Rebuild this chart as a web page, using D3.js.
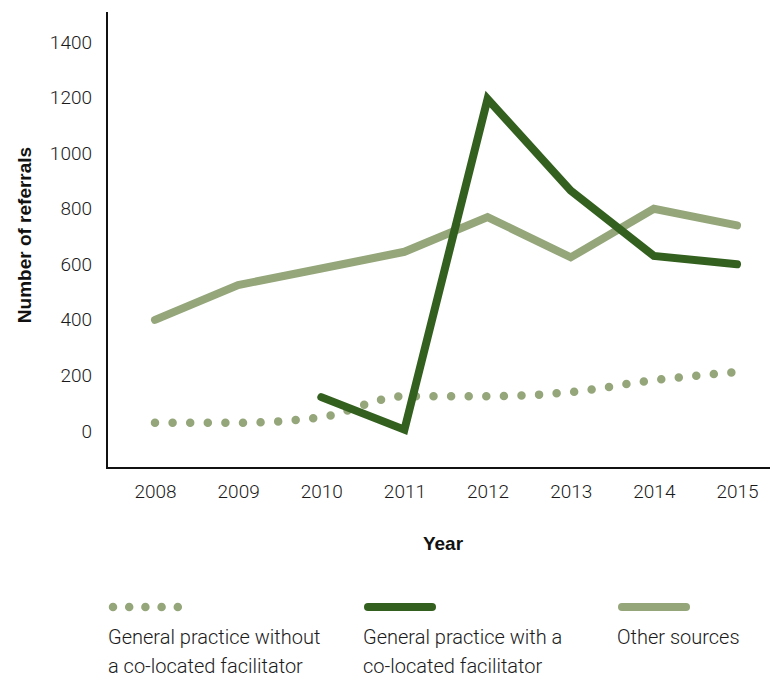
<!DOCTYPE html>
<html><head><meta charset="utf-8">
<script src="https://cdn.jsdelivr.net/npm/d3@7"></script>
<style>body{margin:0;background:#fff}svg{display:block}</style>
</head><body><svg id="c" width="776" height="678"></svg>
<script>
const years = [2008, 2009, 2010, 2011, 2012, 2013, 2014, 2015];
const withoutFacilitator = [30, 30, 50, 125, 125, 140, 183, 212];
const withFacilitator = [null, null, 122, 5, 1195, 865, 630, 600];
const otherSources = [400, 525, 585, 645, 770, 625, 800, 740];
const yTicks = [0, 200, 400, 600, 800, 1000, 1200, 1400];
const legendLabels = [["General practice without", "a co-located facilitator"], ["General practice with a", "co-located facilitator"], ["Other sources"]];
const darkGreen = "#33601f", lightGreen = "#94a67a";
const LIGHT = "font-family:Roboto,'Liberation Sans',Arial,sans-serif;font-weight:300;fill:#1a1a1a";
const BOLD = "font-family:'Liberation Sans',Arial,sans-serif;font-weight:700;fill:#111";

const svg = d3.select("#c");
const x = d3.scalePoint().domain(years).range([155, 737]);
const y = d3.scaleLinear().domain([0, 1400]).range([431, 42]);

svg.append("line").attr("x1", 107).attr("x2", 107).attr("y1", 12).attr("y2", 469).attr("stroke", "#111").attr("stroke-width", 2);
svg.append("line").attr("x1", 106).attr("x2", 770).attr("y1", 468).attr("y2", 468).attr("stroke", "#111").attr("stroke-width", 2);

const yAxis = d3.axisLeft(y).tickValues(yTicks).tickFormat(d3.format("d")).tickSize(0).tickPadding(0);
const gy = svg.append("g").attr("transform", "translate(92,0)").call(yAxis);
gy.select(".domain").remove();
gy.selectAll("text").attr("font-size", 19).attr("style", LIGHT);

const xAxis = d3.axisBottom(x).tickFormat(d3.format("d")).tickSize(0).tickPadding(0);
const gx = svg.append("g").attr("transform", "translate(0,484)").call(xAxis);
gx.select(".domain").remove();
gx.selectAll("text").attr("font-size", 19).attr("style", LIGHT);

svg.append("text").attr("x", 443).attr("y", 550).attr("text-anchor", "middle").attr("font-size", 19).attr("style", BOLD).text("Year");
svg.append("text").attr("transform", "translate(31,235) rotate(-90)").attr("text-anchor", "middle").attr("font-size", 19).attr("style", BOLD).text("Number of referrals");

const line = d3.line().defined(d => d[1] != null).x(d => x(d[0])).y(d => y(d[1]));
const smooth = d3.line().x(d => x(d[0])).y(d => y(d[1])).curve(d3.curveMonotoneX);

svg.append("path").datum(years.map((yr, i) => [yr, withoutFacilitator[i]]))
  .attr("d", smooth).attr("fill", "none").attr("stroke", lightGreen).attr("stroke-width", 8.5)
  .attr("stroke-linecap", "round").attr("stroke-dasharray", "0 17.6");
svg.append("path").datum(years.map((yr, i) => [yr, otherSources[i]]))
  .attr("d", line).attr("fill", "none").attr("stroke", lightGreen).attr("stroke-width", 8)
  .attr("stroke-linecap", "round").attr("stroke-linejoin", "miter");
svg.append("path").datum(years.map((yr, i) => [yr, withFacilitator[i]]))
  .attr("d", line).attr("fill", "none").attr("stroke", darkGreen).attr("stroke-width", 8)
  .attr("stroke-linecap", "round").attr("stroke-linejoin", "miter");

const lx = [113, 368, 622];
svg.append("line").attr("x1", lx[0]).attr("x2", lx[0] + 65).attr("y1", 607).attr("y2", 607)
  .attr("stroke", lightGreen).attr("stroke-width", 8.5).attr("stroke-linecap", "round").attr("stroke-dasharray", "0 16.2");
svg.append("line").attr("x1", lx[1]).attr("x2", lx[1] + 64).attr("y1", 607).attr("y2", 607)
  .attr("stroke", darkGreen).attr("stroke-width", 8).attr("stroke-linecap", "round");
svg.append("line").attr("x1", lx[2]).attr("x2", lx[2] + 64).attr("y1", 607).attr("y2", 607)
  .attr("stroke", lightGreen).attr("stroke-width", 8).attr("stroke-linecap", "round");
const tx = [108, 363, 617];
legendLabels.forEach((lines, i) => {
  lines.forEach((t, j) => {
    svg.append("text").attr("x", tx[i]).attr("y", 644 + j * 29).attr("font-size", 20).attr("style", LIGHT).text(t);
  });
});
</script></body></html>
